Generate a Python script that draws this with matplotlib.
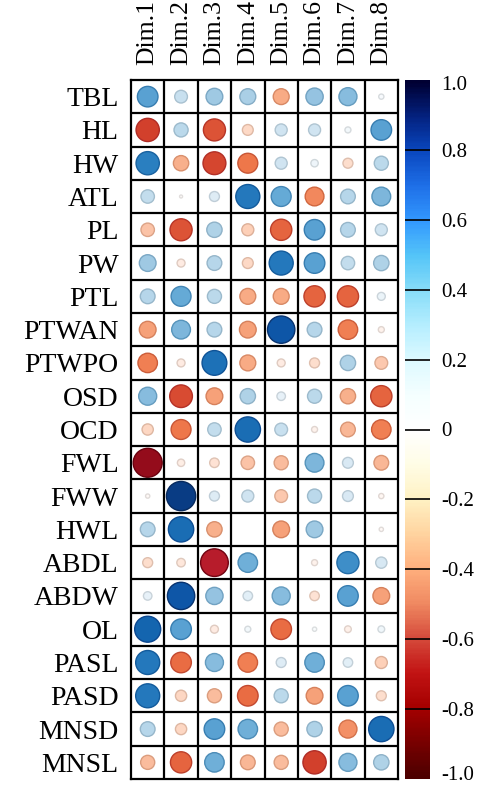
import matplotlib
matplotlib.use('Agg')
import matplotlib.pyplot as plt
import matplotlib.transforms as mtransforms
import numpy as np
from matplotlib.patches import Circle
from matplotlib.colors import LinearSegmentedColormap, to_rgb

plt.rcParams['font.family'] = ['Liberation Serif', 'DejaVu Serif']

rows = ['TBL', 'HL', 'HW', 'ATL', 'PL', 'PW', 'PTL', 'PTWAN', 'PTWPO', 'OSD', 'OCD',
        'FWL', 'FWW', 'HWL', 'ABDL', 'ABDW', 'OL', 'PASL', 'PASD', 'MNSD', 'MNSL']
dims = ['Dim.1', 'Dim.2', 'Dim.3', 'Dim.4', 'Dim.5', 'Dim.6', 'Dim.7', 'Dim.8']

dim1 = [0.47, -0.60, 0.60, 0.20, -0.20, 0.31, 0.24, -0.31, -0.42, 0.36, -0.14,
        -0.93, -0.02, 0.24, -0.11, 0.08, 0.75, 0.64, 0.64, 0.24, -0.22]
dim2 = [0.18, 0.22, -0.26, -0.01, -0.54, -0.07, 0.44, 0.39, -0.07, -0.57, -0.44,
        -0.06, 0.95, 0.71, -0.08, 0.83, 0.47, -0.47, -0.14, -0.14, -0.50]
dim3 = [0.31, -0.54, -0.58, 0.11, 0.26, 0.24, 0.22, 0.24, 0.68, -0.31, 0.20,
        -0.10, 0.11, -0.26, -0.85, 0.33, -0.07, 0.36, -0.22, 0.47, 0.42]
dim4 = [0.28, -0.13, -0.44, 0.64, -0.16, -0.13, -0.28, -0.31, -0.28, 0.26, 0.71,
        -0.20, 0.16, 0.0, 0.42, 0.10, 0.04, -0.42, -0.47, 0.42, -0.24]
dim5 = [-0.28, 0.16, 0.16, 0.44, -0.50, 0.64, -0.28, 0.83, -0.07, 0.08, 0.18,
        -0.22, -0.18, -0.31, 0.0, 0.36, -0.47, 0.11, 0.22, -0.22, -0.22]
dim6 = [0.33, 0.16, 0.06, -0.39, 0.47, 0.47, -0.50, 0.24, -0.11, 0.22, -0.04,
        0.39, 0.22, 0.31, -0.04, -0.10, 0.02, 0.42, -0.31, 0.26, -0.60]
dim7 = [0.36, 0.04, -0.11, 0.24, 0.24, 0.20, -0.50, -0.42, 0.26, -0.26, -0.24,
        0.13, 0.13, 0.0, 0.54, 0.47, -0.05, 0.10, 0.47, -0.36, 0.36]
dim8 = [0.03, 0.47, 0.22, 0.39, 0.16, 0.26, 0.07, -0.04, -0.18, -0.50, -0.42,
        -0.24, -0.03, -0.02, 0.14, -0.31, 0.05, -0.16, -0.11, 0.71, 0.26]

vals = np.array([dim1, dim2, dim3, dim4, dim5, dim6, dim7, dim8]).T

# circle palette
circ_cmap = LinearSegmentedColormap.from_list('circ', [
    (0.0, '#7A0010'), (0.075, '#B71C2B'), (0.2, '#D2402C'), (0.275, '#EE7548'),
    (0.35, '#F7A47C'), (0.425, '#FDD3BD'), (0.5, '#FFFFFF'), (0.575, '#D3E6F2'),
    (0.65, '#A3CBE4'), (0.725, '#62A8D5'), (0.8, '#2A7FC0'), (0.875, '#1466B0'),
    (0.95, '#0A4AA0'), (1.0, '#08306B')])

# colorbar palette
bar_cmap = LinearSegmentedColormap.from_list('bar', [
    (0.0, '#4D0000'), (0.1, '#A50000'), (0.15, '#C21414'), (0.2, '#D64B3C'),
    (0.25, '#F08A62'), (0.3, '#FFB07E'), (0.35, '#FFD4A0'), (0.4, '#FFF2C4'),
    (0.45, '#FFFDE6'), (0.5, '#FFFFFF'), (0.55, '#F5FFFF'), (0.6, '#DDFAFF'),
    (0.65, '#B5EEFF'), (0.7, '#88DDF8'), (0.75, '#55C5F8'), (0.8, '#3399FF'),
    (0.85, '#1F70E8'), (0.9, '#0A48C0'), (0.95, '#042280'), (1.0, '#000033')])

W, H = 478, 787
fig = plt.figure(figsize=(W / 100, H / 100), dpi=100)

gx0, gx1, gy0, gy1 = 131, 398, 80, 779
ax = fig.add_axes([gx0 / W, 1 - gy1 / H, (gx1 - gx0) / W, (gy1 - gy0) / H])
nr, nc = len(rows), len(dims)
ax.set_xlim(0, nc)
ax.set_ylim(nr, 0)

for i in range(nr):
    for j in range(nc):
        r = vals[i, j]
        if r == 0:
            continue
        fc = circ_cmap((r + 1) / 2)
        ec = circ_cmap((np.clip(r * 1.15, -1, 1) + 1) / 2)
        ec = tuple(np.array(to_rgb(ec)) * 0.88)
        rad = 0.9 * np.sqrt(abs(r)) / 2
        ax.add_patch(Circle((j + 0.5, i + 0.5), rad, facecolor=fc, edgecolor=ec, lw=1.0))

for k in range(1, nr):
    ax.axhline(k, color='black', lw=1.6)
for k in range(1, nc):
    ax.axvline(k, color='black', lw=1.6)
for s in ax.spines.values():
    s.set_linewidth(1.6)

ax.set_yticks(np.arange(nr) + 0.5)
ax.set_yticklabels(rows, fontsize=20)
ax.set_xticks(np.arange(nc) + 0.5)
ax.set_xticklabels(dims, fontsize=18.5, rotation=90)
ax.xaxis.tick_top()
ax.tick_params(axis='both', length=0)
ax.tick_params(axis='y', pad=9)
ax.tick_params(axis='x', pad=11)

# colorbar
cax = fig.add_axes([405 / W, 1 - gy1 / H, 25 / W, (gy1 - gy0) / H])
grad = np.linspace(-1, 1, 400).reshape(-1, 1)
cax.imshow(grad, cmap=bar_cmap, vmin=-1, vmax=1, aspect='auto', origin='lower',
           extent=[0, 1, -1, 1])
cax.set_xlim(0, 1)
cax.set_ylim(-1, 1)
cax.set_xticks([])
cticks = np.round(np.arange(-1.0, 1.01, 0.2), 1)
for t in cticks[1:-1]:
    cax.axhline(t, color='black', lw=1.2)
cax.set_yticks(cticks)
cax.set_yticklabels(['%.1f' % t if abs(t) == 1 else ('0' if t == 0 else '%g' % t)
                     for t in cticks], fontsize=15)
cax.yaxis.tick_right()
cax.tick_params(axis='y', length=0, pad=8)
for s in cax.spines.values():
    s.set_visible(False)

# keep end labels inside the figure
labs = cax.get_yticklabels()
labs[0].set_transform(labs[0].get_transform() +
                      mtransforms.ScaledTranslation(0, 4 / 72, fig.dpi_scale_trans))
labs[-1].set_transform(labs[-1].get_transform() +
                       mtransforms.ScaledTranslation(0, -2 / 72, fig.dpi_scale_trans))

fig.savefig('out.png', dpi=100)
